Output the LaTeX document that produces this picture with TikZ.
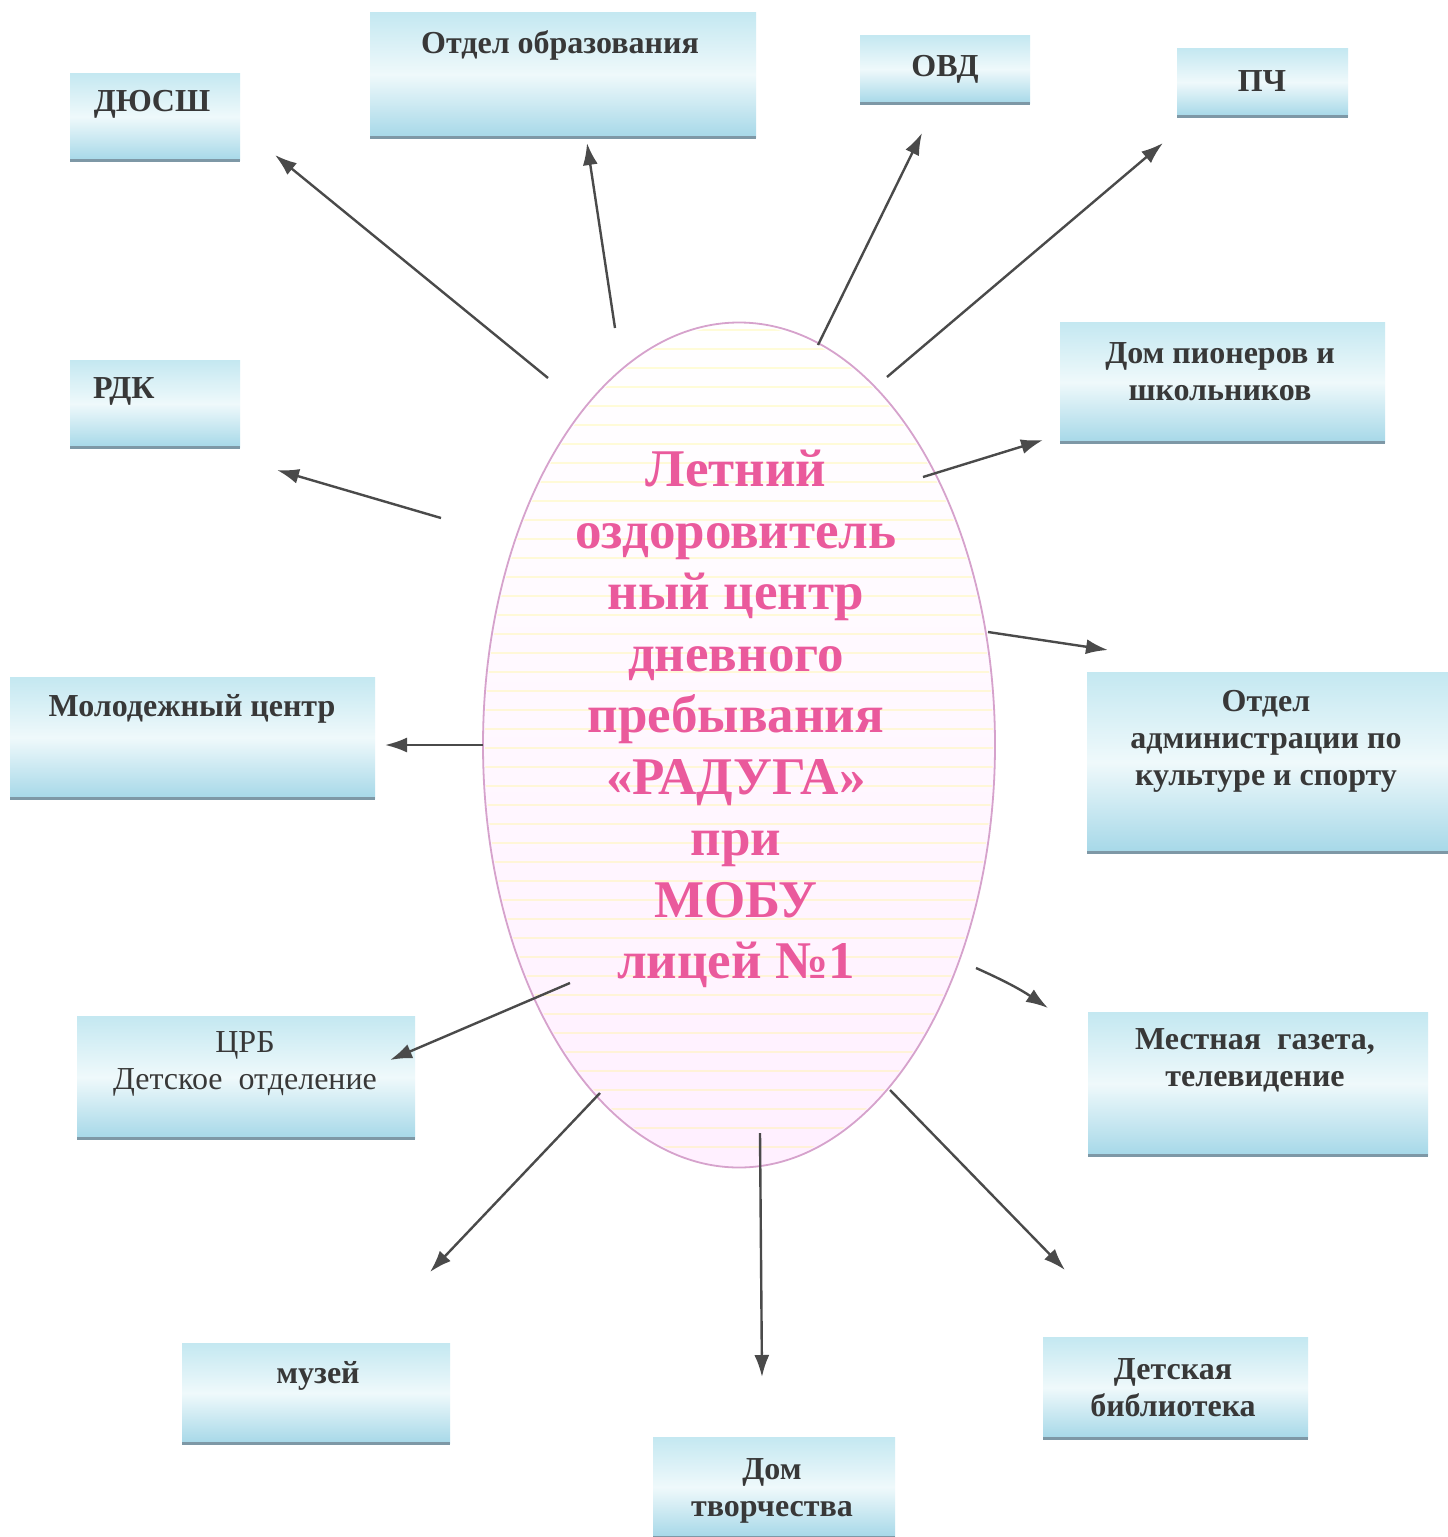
\documentclass[tikz,border=0pt]{standalone}
\usepackage{fontspec}
\setmainfont{Liberation Serif}
\usetikzlibrary{shapes.geometric,arrows.meta}
\definecolor{boxtop}{HTML}{C4E8F1}
\definecolor{boxmid}{HTML}{EFF9FB}
\definecolor{boxbot}{HTML}{A6D8E8}
\definecolor{boxshadow}{HTML}{7E98A6}
\definecolor{boxtext}{HTML}{383838}
\definecolor{eggpink}{HTML}{EA5A9C}
\definecolor{eggborder}{HTML}{D6A2CC}
\definecolor{arrowgray}{HTML}{4A4A4A}
\tikzset{
  infobox/.style={rectangle, draw=none, top color=boxtop, bottom color=boxbot, middle color=boxmid, anchor=north west, inner sep=0pt},
  boxlabel/.style={font=\fontsize{32}{37}\selectfont\bfseries, text=boxtext, align=center, inner sep=0pt},
  boxlabelreg/.style={font=\fontsize{32}{37}\selectfont, text=boxtext, align=center, inner sep=0pt},
  link/.style={draw=arrowgray, line width=2.4pt, -{Latex[length=22pt,width=15pt]}},
  shadowline/.style={draw=boxshadow, line width=3pt}
}
\newcommand{\infobox}[5]{% name, x1, y1, x2, y2
  \node[infobox, minimum width={#4-#2}, minimum height={#5-#3}] (#1) at (#2,#3) {};
  \draw[shadowline] (#1.south west) -- (#1.south east);
}
\begin{document}
\begin{tikzpicture}[x=1pt,y=-1pt]
\fill[white] (0,0) rectangle (1448,1537);
\useasboundingbox (0,0) rectangle (1448,1537);

% central egg
\node[ellipse, minimum width=512pt, minimum height=845pt, inner sep=0pt,
      top color=white, middle color=yellow!4!white, bottom color=magenta!6!white,
      draw=eggborder, line width=1.8pt] (egg) at (739,745) {};
\begin{scope}
  \clip (739,745) ellipse [x radius=254pt, y radius=420pt];
  \foreach \yy in {330,349,...,1170} {
    \draw[yellow!60!white, line width=1.5pt, opacity=0.25] (480,\yy) -- (1000,\yy);
  }
\end{scope}
\node[font=\fontsize{53}{61.5}\selectfont\bfseries, text=eggpink, align=center, inner sep=0pt] (eggtext) at (736,719)
  {Летний\\оздоровитель\\ный центр\\дневного\\пребывания\\«РАДУГА»\\при\\МОБУ\\лицей №1};

% boxes
\infobox{dyussh}{70}{73}{240}{160}
\infobox{otdobr}{370}{12}{756}{137}
\infobox{ovd}{860}{35}{1030}{103}
\infobox{pch}{1177}{48}{1348}{116}
\infobox{rdk}{70}{360}{240}{447}
\infobox{dompion}{1060}{322}{1385}{442}
\infobox{molod}{10}{677}{375}{798}
\infobox{otdadm}{1087}{672}{1448}{852}
\infobox{crb}{77}{1016}{415}{1138}
\infobox{gazeta}{1088}{1012}{1428}{1155}
\infobox{muzei}{182}{1343}{450}{1443}
\infobox{detbib}{1043}{1337}{1308}{1438}
\infobox{domtv}{653}{1437}{895}{1537}

% labels
\node[boxlabel] (dyussh-t) at (152,104) {ДЮСШ};
\node[boxlabel] (otdobr-t) at (560,45) {Отдел образования};
\node[boxlabel] (ovd-t) at (945,69) {ОВД};
\node[boxlabel] (pch-t) at (1262,81) {ПЧ};
\node[boxlabel, anchor=west] (rdk-t) at (93,391) {РДК};
\node[boxlabel] (dompion-t) at (1220,372) {Дом пионеров и\\школьников};
\node[boxlabel] (molod-t) at (192,709) {Молодежный центр};
\node[boxlabel] (otdadm-t) at (1266,741) {Отдел\\администрации по\\культуре и спорту};
\node[boxlabelreg] (crb-t) at (245,1064) {ЦРБ\\Детское\ \ отделение};
\node[boxlabel] (gazeta-t) at (1255,1060) {Местная\ \ газета,\\телевидение};
\node[boxlabel] (muzei-t) at (318,1376) {музей};
\node[boxlabel] (detbib-t) at (1173,1388) {Детская\\библиотека};
\node[boxlabel] (domtv-t) at (772,1491) {Дом\\творчества};

% arrow end points
\coordinate (s1) at (548,378);  \coordinate (e1) at (275,155);
\coordinate (s2) at (615,328);  \coordinate (e2) at (587,143);
\coordinate (s3) at (818,345);  \coordinate (e3) at (922,133);
\coordinate (s4) at (887,377);  \coordinate (e4) at (1163,143);
\coordinate (s5) at (923,477);  \coordinate (e5) at (1043,440);
\coordinate (s6) at (441,518);  \coordinate (e6) at (277,470);
\coordinate (s7) at (988,632);  \coordinate (e7) at (1108,650);
\coordinate (s8) at (483,745);  \coordinate (e8) at (385,745);
\coordinate (s9) at (570,983);  \coordinate (e9) at (390,1060);
\coordinate (s10) at (976,968); \coordinate (e10) at (1048,1008);
\coordinate (s11) at (600,1093); \coordinate (e11) at (430,1272);
\coordinate (s12) at (760,1133); \coordinate (e12) at (762,1377);
\coordinate (s13) at (890,1090); \coordinate (e13) at (1065,1270);

\draw[link] (s1) -- (e1);
\draw[link] (s2) -- (e2);
\draw[link] (s3) -- (e3);
\draw[link] (s4) -- (e4);
\draw[link] (s5) -- (e5);
\draw[link] (s6) -- (e6);
\draw[link] (s7) -- (e7);
\draw[link] (s8) -- (e8);
\draw[link] (s9) -- (e9);
\draw[link] (s10) to[bend left=5] (e10);
\draw[link] (s11) -- (e11);
\draw[link] (s12) -- (e12);
\draw[link] (s13) -- (e13);
\end{tikzpicture}
\end{document}
